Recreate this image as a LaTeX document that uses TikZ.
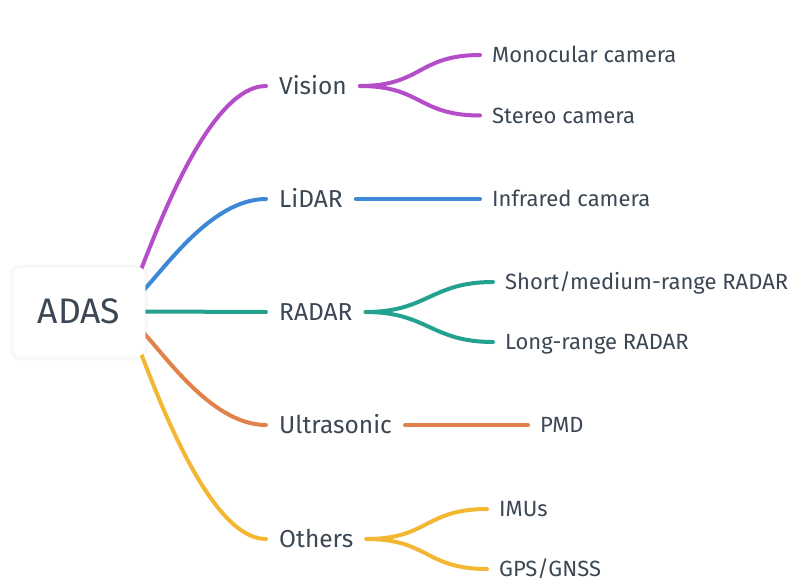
\documentclass[tikz,border=0pt]{standalone}
\usepackage{fontspec}
\setmainfont{Fira Sans}
\usetikzlibrary{calc}
\definecolor{txt}{HTML}{3B4754}
\definecolor{cpurple}{HTML}{B54DC9}
\definecolor{cblue}{HTML}{3D88D6}
\definecolor{cteal}{HTML}{25A18F}
\definecolor{corange}{HTML}{E0824A}
\definecolor{cyellow}{HTML}{F3B733}
\pgfdeclarelayer{bg}
\pgfdeclarelayer{bgbase}
\pgfsetlayers{bgbase,bg,main}
\begin{document}
\begin{tikzpicture}[x=1pt,y=-1pt,
  lvlone/.style={anchor=west, inner xsep=13pt, inner ysep=0pt, text height=16.9pt, text depth=0pt, font=\fontsize{24.5}{24.5}\selectfont, text=txt},
  lvltwo/.style={anchor=west, inner xsep=12pt, inner ysep=0pt, text height=15.2pt, text depth=0pt, font=\fontsize{22}{22}\selectfont, text=txt},
  link/.style={line width=4pt, line cap=round},
  rootbox/.style={fill=white, draw=black!3, line width=0.6pt, rounded corners=8pt, minimum width=132pt, minimum height=89pt, inner sep=0pt, text height=24.4pt, text depth=0pt, font=\fontsize{35.5}{35.5}\selectfont, text=txt}
]
\begin{pgfonlayer}{bgbase}
\fill[white] (0,0) rectangle (788,584);
\end{pgfonlayer}
\useasboundingbox (0,0) rectangle (788,584);

\node[rootbox] (root) at (79,311.5) {ADAS};

\node[lvlone] (vision) at (266,86) {Vision};
\node[lvlone] (lidar) at (266,199) {LiDAR};
\node[lvlone] (radar) at (266,312) {RADAR};
\node[lvlone] (ultra) at (266,425) {Ultrasonic};
\node[lvlone] (others) at (266,539) {Others};

\node[lvltwo] (mono) at (480,55) {Monocular camera};
\node[lvltwo] (stereo) at (480,115.5) {Stereo camera};
\node[lvltwo] (infra) at (480,199) {Infrared camera};
\node[lvltwo] (short) at (493,282) {Short/medium-range RADAR};
\node[lvltwo] (long) at (493,342) {Long-range RADAR};
\node[lvltwo] (pmd) at (528,425) {PMD};
\node[lvltwo] (imu) at (487,509) {IMUs};
\node[lvltwo] (gps) at (487,569) {GPS/GNSS};

\coordinate (s1) at ($(root.east)+(-10,-28)$);
\coordinate (s2) at ($(root.east)+(-7,-16)$);
\coordinate (s4) at ($(root.east)+(-7,16)$);
\coordinate (s5) at ($(root.east)+(-10,28)$);

\begin{pgfonlayer}{bg}
  \foreach \d/\c in {1/4,2/3,3/2}{
    \draw[black!\c, line width=1pt, rounded corners=9pt]
      ($(root.south west)+(-\d*0.8,\d*0.8+0.8)$) rectangle ($(root.north east)+(\d*0.8,-\d*0.8+0.8)$);
  }
  \draw[link,cpurple] (s1) .. controls +(12,-26) and +(-62,0) .. (vision.west);
  \draw[link,cblue] (s2) .. controls +(22,-20) and +(-57,0) .. (lidar.west);
  \draw[link,cteal] (root.east) -- (radar.west);
  \draw[link,corange] (s4) .. controls +(22,20) and +(-57,0) .. (ultra.west);
  \draw[link,cyellow] (s5) .. controls +(12,26) and +(-62,0) .. (others.west);
\end{pgfonlayer}

\draw[link,cpurple] (vision.east) .. controls +(62,0) and +(-62,0) .. (mono.west);
\draw[link,cpurple] (vision.east) .. controls +(62,0) and +(-62,0) .. (stereo.west);
\draw[link,cblue] (lidar.east) -- (infra.west);
\draw[link,cteal] (radar.east) .. controls +(62,0) and +(-62,0) .. (short.west);
\draw[link,cteal] (radar.east) .. controls +(62,0) and +(-62,0) .. (long.west);
\draw[link,corange] (ultra.east) -- (pmd.west);
\draw[link,cyellow] (others.east) .. controls +(62,0) and +(-62,0) .. (imu.west);
\draw[link,cyellow] (others.east) .. controls +(62,0) and +(-62,0) .. (gps.west);
\end{tikzpicture}
\end{document}
